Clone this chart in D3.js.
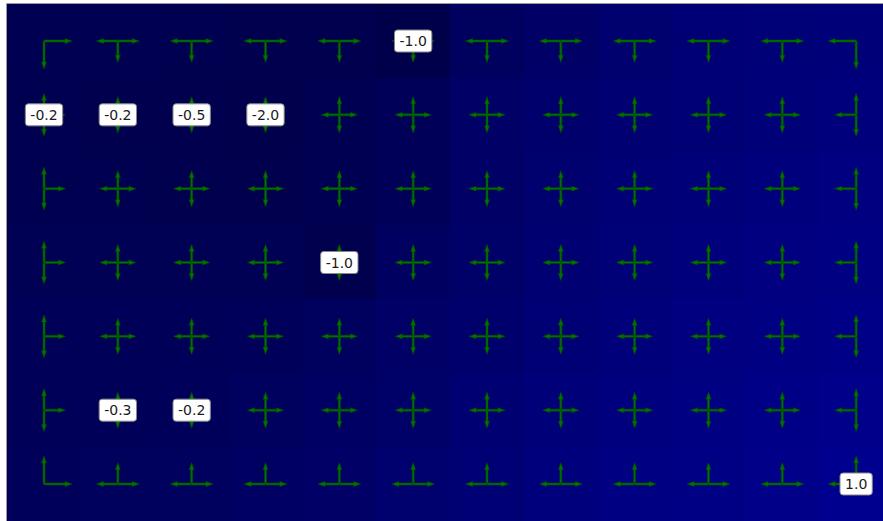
<!DOCTYPE html>
<html>
<head>
<meta charset="utf-8">
<script src="https://cdn.jsdelivr.net/npm/d3@7"></script>
<style>
  html, body { margin: 0; padding: 0; background: #fff; }
  svg { display: block; }
</style>
</head>
<body>
<svg id="grid" width="883" height="521"></svg>
<script>
const svg = d3.select("#grid");
const width = +svg.attr("width");
const height = +svg.attr("height");

const nRows = 7;
const nCols = 12;
const cell = 73.83;
const x0 = 7.1, y0 = 4.1;

// state values (row by row, left to right)
const values = [
    [-0.78, -0.78, -0.80, -0.82, -0.82, -0.90, -0.58, -0.44, -0.33, -0.25, -0.19, -0.16],
    [-0.80, -0.82, -0.84, -0.88, -0.78, -0.67, -0.47, -0.36, -0.27, -0.22, -0.16, -0.11],
    [-0.80, -0.80, -0.82, -0.84, -0.78, -0.67, -0.47, -0.33, -0.22, -0.16, -0.11, -0.05],
    [-0.75, -0.75, -0.75, -0.75, -0.84, -0.55, -0.41, -0.27, -0.19, -0.11, -0.05, 0.00],
    [-0.69, -0.69, -0.67, -0.64, -0.58, -0.47, -0.36, -0.22, -0.14, -0.05, 0.00, 0.06],
    [-0.67, -0.69, -0.64, -0.58, -0.53, -0.41, -0.27, -0.16, -0.08, 0.00, 0.06, 0.12],
    [-0.64, -0.61, -0.58, -0.53, -0.44, -0.33, -0.22, -0.11, -0.02, 0.03, 0.09, 0.17]
];

// reward cells: row, col, reward
const rewardRows = [0, 1, 1, 1, 1, 3, 5, 5, 6];
const rewardCols = [5, 0, 1, 2, 3, 4, 1, 2, 11];
const rewardValues = [-1.0, -0.2, -0.2, -0.5, -2.0, -1.0, -0.3, -0.2, 1.0];

// actions: up, down, left, right
const actionNames = ["up", "down", "left", "right"];
const actionDx = [0, 0, -1, 1];
const actionDy = [-1, 1, 0, 0];

const x = d3.scaleBand().domain(d3.range(nCols)).range([x0, x0 + nCols * cell]).paddingInner(0);
const y = d3.scaleBand().domain(d3.range(nRows)).range([y0, y0 + nRows * cell]).paddingInner(0);
const color = d3.scaleLinear().domain([-1.0, 0.2]).range(["#000044", "#000090"]);
const arrowLen = d3.scaleLinear().domain([0, 1]).range([8, 48]);

// cells
const cells = [];
values.forEach((row, r) => row.forEach((v, c) => cells.push({ r, c, v })));

svg.append("g")
    .attr("shape-rendering", "crispEdges")
    .selectAll("rect")
    .data(cells)
    .join("rect")
    .attr("x", d => Math.round(x(d.c)))
    .attr("y", d => Math.round(y(d.r)))
    .attr("width", d => Math.round(x(d.c) + x.bandwidth()) - Math.round(x(d.c)))
    .attr("height", d => Math.round(y(d.r) + y.bandwidth()) - Math.round(y(d.r)))
    .attr("fill", d => color(d.v));

// frame
svg.append("line").attr("x1", 6.5).attr("x2", width).attr("y1", 3.5).attr("y2", 3.5)
    .attr("stroke", "#999").attr("stroke-width", 1);
svg.append("line").attr("x1", 6.5).attr("x2", 6.5).attr("y1", 3.5).attr("y2", height)
    .attr("stroke", "#999").attr("stroke-width", 1);

// policy arrows (uniform random over allowed moves)
const arrows = [];
cells.forEach(({ r, c }) => {
    const allowed = actionNames.map((a, i) => i).filter(i => {
        const nr = r + actionDy[i], nc = c + actionDx[i];
        return nr >= 0 && nr < nRows && nc >= 0 && nc < nCols;
    });
    allowed.forEach(i => arrows.push({ r, c, dx: actionDx[i], dy: actionDy[i], p: 1 / allowed.length }));
});

const headLen = 7, headW = 2.4, shaftW = 1.0;
function arrowPath(d) {
    const cx = x(d.c) + x.bandwidth() / 2;
    const cy = y(d.r) + y.bandwidth() / 2;
    const L = arrowLen(d.p);
    const pts = [
        [0, -shaftW], [L - headLen, -shaftW], [L - headLen, -headW], [L, 0],
        [L - headLen, headW], [L - headLen, shaftW], [0, shaftW]
    ];
    return "M" + pts.map(([u, w]) => {
        const px = cx + u * d.dx - w * d.dy;
        const py = cy + u * d.dy + w * d.dx;
        return px.toFixed(2) + "," + py.toFixed(2);
    }).join("L") + "Z";
}

svg.append("g")
    .selectAll("path")
    .data(arrows)
    .join("path")
    .attr("d", arrowPath)
    .attr("fill", "#007400")
    .attr("stroke", "#004800")
    .attr("stroke-width", 0.6);

// reward labels
const fmt = v => d3.format(".1f")(v).replace("\u2212", "-");
const labels = svg.append("g")
    .selectAll("g")
    .data(rewardValues.map((v, i) => ({ r: rewardRows[i], c: rewardCols[i], v })))
    .join("g")
    .attr("transform", d => `translate(${x(d.c) + x.bandwidth() / 2},${y(d.r) + y.bandwidth() / 2})`);

labels.append("text")
    .attr("text-anchor", "middle")
    .attr("dy", "0.36em")
    .attr("font-family", "DejaVu Sans")
    .attr("font-size", 14)
    .attr("fill", "#1a1a1a")
    .text(d => fmt(d.v));

labels.each(function() {
    const g = d3.select(this);
    const bb = g.select("text").node().getBBox();
    g.insert("rect", "text")
        .attr("x", bb.x - 5)
        .attr("y", -11)
        .attr("width", bb.width + 10)
        .attr("height", 22)
        .attr("rx", 3)
        .attr("fill", "#fff")
        .attr("stroke", "#888")
        .attr("stroke-width", 1);
});
</script>
</body>
</html>
